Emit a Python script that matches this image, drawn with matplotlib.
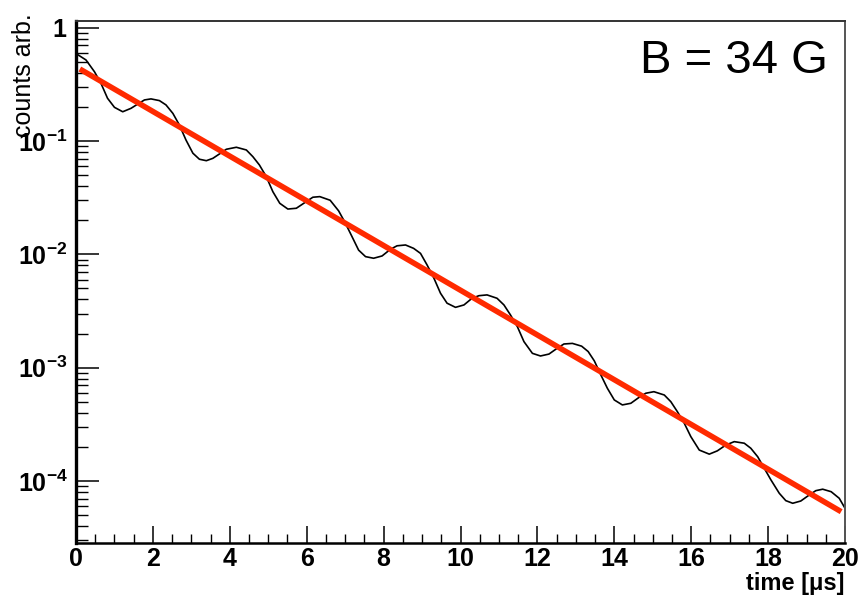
import math
import matplotlib
matplotlib.use('Agg')
import matplotlib.pyplot as plt
from matplotlib.ticker import MultipleLocator, LogLocator, FuncFormatter, NullFormatter

# black curve (time in us, counts arb.)
time_us = [0.0, 0.26, 0.48, 0.65, 0.82, 1.00, 1.215, 1.43, 1.61, 1.78,
           1.95, 2.17, 2.34, 2.52, 2.69, 2.86, 3.04, 3.21, 3.39, 3.56,
           3.73, 3.91, 4.17, 4.43, 4.60, 4.77, 4.95, 5.12, 5.30, 5.51,
           5.73, 5.99, 6.16, 6.34, 6.61, 6.83, 7.00, 7.18, 7.35, 7.53,
           7.74, 7.96, 8.18, 8.35, 8.57, 8.78, 8.96, 9.13, 9.31, 9.48,
           9.65, 9.87, 10.09, 10.30, 10.48, 10.69, 10.95, 11.13, 11.30, 11.48,
           11.65, 11.87, 12.08, 12.30, 12.52, 12.69, 12.91, 13.15, 13.32, 13.48,
           13.65, 13.82, 14.00, 14.21, 14.43, 14.65, 14.82, 15.03, 15.30, 15.47,
           15.64, 15.82, 15.99, 16.21, 16.47, 16.68, 16.90, 17.12, 17.38, 17.55,
           17.73, 17.90, 18.07, 18.29, 18.46, 18.64, 18.85, 19.07, 19.24, 19.42,
           19.64, 19.85, 20.00]
counts = [0.590, 0.518, 0.408, 0.322, 0.238, 0.198, 0.181, 0.194, 0.212, 0.230,
          0.235, 0.227, 0.208, 0.175, 0.138, 0.102, 0.078, 0.069, 0.067, 0.0703,
          0.0768, 0.0845, 0.0880, 0.0833, 0.0727, 0.0614, 0.0484, 0.0357, 0.0282, 0.0251,
          0.0255, 0.0292, 0.0319, 0.0323, 0.0300, 0.0242, 0.0190, 0.0143, 0.0109, 0.00955,
          0.00924, 0.00968, 0.0111, 0.0119, 0.0121, 0.0113, 0.0102, 0.00807, 0.00615, 0.00454,
          0.00371, 0.00341, 0.00358, 0.00410, 0.00432, 0.00439, 0.00410, 0.00358, 0.00292, 0.00230,
          0.00170, 0.00134, 0.00127, 0.00132, 0.00149, 0.00162, 0.00164, 0.00155, 0.00139, 0.00115,
          8.65e-4, 6.59e-4, 5.20e-4, 4.70e-4, 4.86e-4, 5.50e-4, 5.96e-4, 6.15e-4, 5.75e-4, 5.02e-4,
          4.10e-4, 3.24e-4, 2.47e-4, 1.88e-4, 1.73e-4, 1.85e-4, 2.08e-4, 2.23e-4, 2.16e-4, 1.95e-4,
          1.64e-4, 1.30e-4, 1.03e-4, 7.82e-5, 6.73e-5, 6.38e-5, 6.68e-5, 7.55e-5, 8.24e-5, 8.49e-5,
          8.07e-5, 7.06e-5, 5.77e-5]

# red fit line
fit_time = [0.1, 6.61, 19.9]
fit_counts = [0.431, 0.0225, 5.38e-5]

x_ticks = [0, 2, 4, 6, 8, 10, 12, 14, 16, 18, 20]
y_label = "counts arb."
x_label = "time [\u03bcs]"
field_text = "B = 34 G"

plt.rcParams['font.family'] = ['Liberation Sans', 'DejaVu Sans']
plt.rcParams['mathtext.fontset'] = 'custom'
plt.rcParams['mathtext.rm'] = 'Liberation Sans'
plt.rcParams['mathtext.bf'] = 'Liberation Sans:bold'

W, H = 859, 597


def log_label(v, pos):
    e = int(round(math.log10(v)))
    if e == 0:
        return r'$\mathbf{1}$'
    return r'$\mathbf{10^{%d}}$' % e


def main():
    fig = plt.figure(figsize=(W / 100, H / 100), dpi=100)
    ax = fig.add_axes([76 / W, 1 - 543.3 / H, (845 - 76) / W, (543.3 - 21) / H])

    ax.plot(time_us, counts, color='black', lw=1.2)
    ax.plot(fit_time, fit_counts, color='#ff2a00', lw=4.0, solid_capstyle='butt')

    ax.set_yscale('log')
    ax.set_xlim(0, 20)
    ax.set_ylim(2.83e-5, 1.143)

    ax.xaxis.set_minor_locator(MultipleLocator(0.5))
    ax.set_xticks(x_ticks)
    ax.set_xticklabels([str(t) for t in x_ticks])
    ax.yaxis.set_major_locator(LogLocator(base=10))
    ax.yaxis.set_minor_locator(LogLocator(base=10, subs=range(2, 10)))
    ax.yaxis.set_major_formatter(FuncFormatter(log_label))
    ax.yaxis.set_minor_formatter(NullFormatter())

    ax.tick_params(axis='x', which='major', direction='in', length=12.2, width=1.1,
                   labelsize=18, pad=3, top=False)
    ax.tick_params(axis='x', which='minor', direction='in', length=6.5, width=1.0, top=False)
    ax.tick_params(axis='y', which='major', direction='in', length=16.6, width=1.1,
                   labelsize=18, pad=6, right=False)
    ax.tick_params(axis='y', which='minor', direction='in', length=8.6, width=1.0, right=False)
    for lab in ax.get_xticklabels():
        lab.set_fontweight('bold')

    ax.spines['left'].set_linewidth(2.4)
    ax.spines['bottom'].set_linewidth(1.8)
    ax.spines['top'].set_linewidth(1.4)
    ax.spines['top'].set_color('#333333')
    ax.spines['right'].set_linewidth(1.4)
    ax.spines['right'].set_color('#555555')

    fig.text(24 / W, 1 - 137 / H, y_label, rotation=90, ha='center', va='bottom', fontsize=18)
    fig.text(845 / W, 1 - 590 / H, x_label, ha='right', va='baseline', fontsize=17, fontweight='bold')
    fig.text(828 / W, 1 - 73 / H, field_text, ha='right', va='baseline', fontsize=34)

    fig.savefig('out.png', dpi=100)


main()
